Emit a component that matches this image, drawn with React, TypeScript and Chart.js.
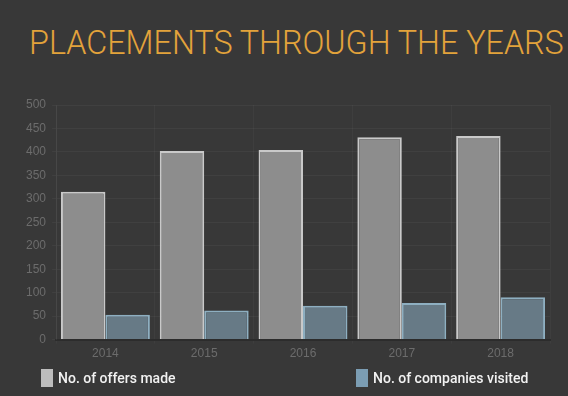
import React, { useEffect, useRef } from "react";
import { Chart, registerables } from "chart.js";

Chart.register(...registerables);

const years = ["2014", "2015", "2016", "2017", "2018"];
const offersMade = [315, 402, 404, 431, 434];
const companiesVisited = [53, 62, 72, 78, 90];
const seriesLabels = ["No. of offers made", "No. of companies visited"];
const titleText = "PLACEMENTS THROUGH THE YEARS";

const offersFill = "#8d8d8d";
const offersBorder = "#c9c9c9";
const compFill = "#677a86";
const compBorder = "#8eafc1";

export default function App() {
  const ref = useRef<HTMLCanvasElement>(null);

  useEffect(() => {
    document.body.style.margin = "0";
    document.body.style.background = "#383838";
    const chart = new Chart(ref.current!, {
      type: "bar",
      data: {
        labels: years,
        datasets: [
          {
            label: seriesLabels[0],
            data: offersMade,
            backgroundColor: offersFill,
            borderColor: offersBorder,
            borderWidth: 2,
          },
          {
            label: seriesLabels[1],
            data: companiesVisited,
            backgroundColor: compFill,
            borderColor: compBorder,
            borderWidth: 2,
          },
        ],
      },
      options: {
        responsive: false,
        animation: false,
        layout: { padding: { top: 105, left: 20, right: 18, bottom: 32 } },
        datasets: { bar: { categoryPercentage: 0.9, barPercentage: 1 } },
        plugins: {
          legend: { display: false },
          title: { display: false },
          tooltip: { enabled: false },
        },
        scales: {
          x: {
            grid: { color: "rgba(255,255,255,0.03)", tickLength: 4 },
            border: { color: "#2c2c2c", width: 2 },
            ticks: { color: "#6c6c6c", font: { size: 12 }, padding: 3 },
          },
          y: {
            min: 0,
            max: 500,
            grid: { color: "rgba(255,255,255,0.045)", tickLength: 4 },
            border: { color: "rgba(255,255,255,0.05)" },
            ticks: { color: "#6c6c6c", font: { size: 12 }, stepSize: 50, padding: 6 },
          },
        },
      },
    });
    return () => chart.destroy();
  }, []);

  const legendItem = (label: string, color: string, left: number) => (
    <div
      style={{
        position: "absolute",
        left,
        top: 369,
        display: "flex",
        alignItems: "center",
        height: 18,
      }}
    >
      <div style={{ width: 12, height: 18, background: color }} />
      <span
        style={{
          marginLeft: 5,
          color: "#f2f2f2",
          fontFamily: "Roboto, sans-serif",
          fontWeight: 500,
          fontSize: 14,
          whiteSpace: "nowrap",
        }}
      >
        {label}
      </span>
    </div>
  );

  return (
    <div
      style={{
        position: "fixed",
        left: 0,
        top: 0,
        width: 568,
        height: 396,
        background: "#383838",
        overflow: "hidden",
      }}
    >
      <div
        style={{
          position: "absolute",
          left: 29,
          top: 24,
          color: "#e3a33b",
          fontFamily: "Roboto, sans-serif",
          fontWeight: 300,
          fontSize: 32.3,
          whiteSpace: "nowrap",
          lineHeight: "38px",
        }}
      >
        {titleText}
      </div>
      <canvas
        ref={ref}
        width={568}
        height={396}
        style={{ position: "absolute", left: 0, top: 0, width: 568, height: 396 }}
      />
      {legendItem(seriesLabels[0], "#bdbdbd", 41)}
      {legendItem(seriesLabels[1], "#7b9db3", 356)}
    </div>
  );
}
